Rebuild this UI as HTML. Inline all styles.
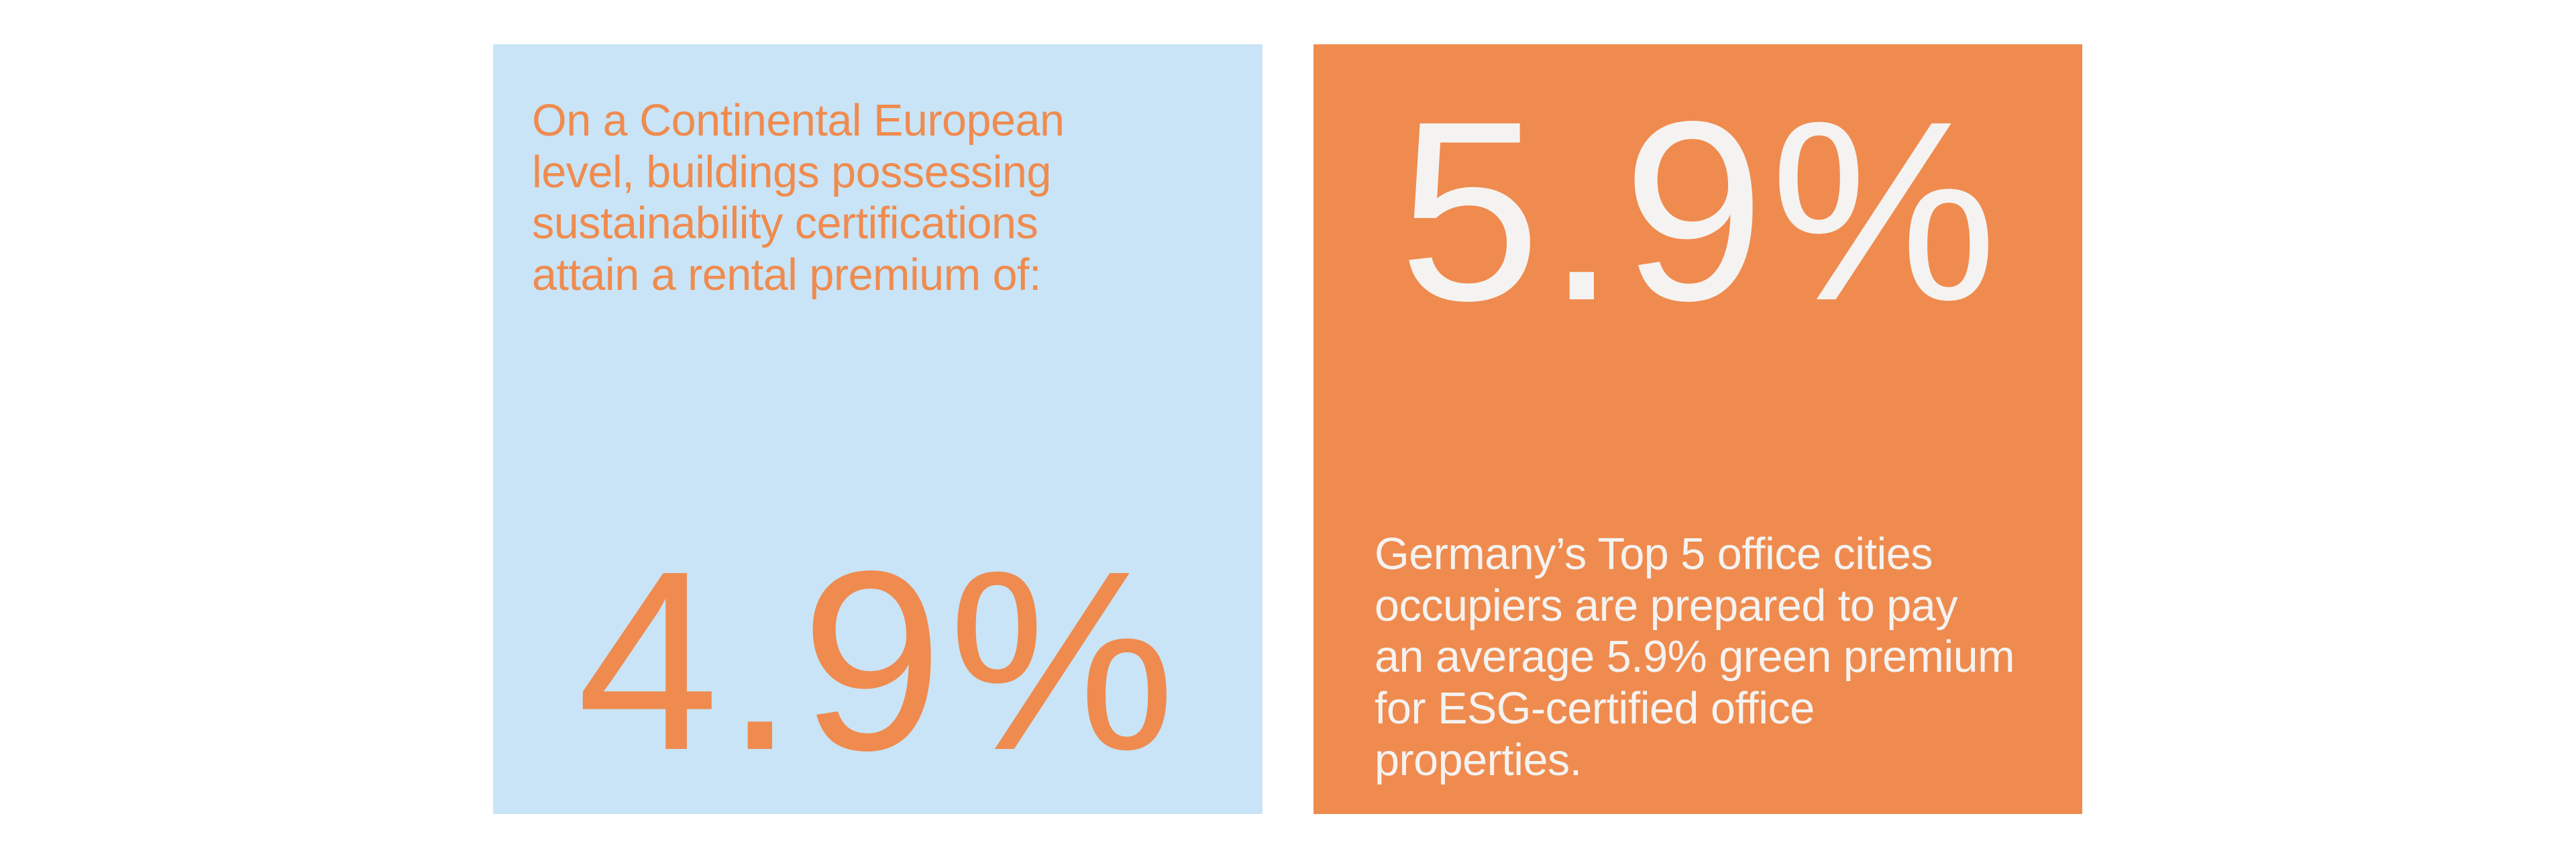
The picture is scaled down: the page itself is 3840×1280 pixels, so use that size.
<!DOCTYPE html>
<html><head><meta charset="utf-8"><style>
html,body{margin:0;padding:0;background:#fff;}
body{width:3840px;height:1280px;position:relative;overflow:hidden;font-family:"Liberation Sans",sans-serif;}
.box{position:absolute;top:66px;height:1147px;}
.b1{left:735px;width:1147px;background:#C9E4F6;}
.b2{left:1958px;width:1146px;background:#EF8B4F;}
.t{position:absolute;font-size:66.5px;line-height:76.7px;white-space:nowrap;letter-spacing:-0.5px;}
.big{position:absolute;font-size:381px;line-height:1;white-space:nowrap;letter-spacing:8px;}
</style></head><body>
<div class="box b1"></div>
<div class="box b2"></div>
<div class="t" style="left:793px;top:142px;color:#EF8B4F;">On a Continental European<br>level, buildings possessing<br>sustainability certifications<br>attain a rental premium of:</div>
<div class="big" style="left:860px;top:794px;color:#EF8B4F;">4.9%</div>
<div class="big" style="left:2085px;top:124px;color:#F5F3F1;">5.9%</div>
<div class="t" style="left:2049px;top:788px;color:#F5F3F1;">Germany’s Top 5 office cities<br>occupiers are prepared to pay<br>an average 5.9% green premium<br>for ESG-certified office<br>properties.</div>
</body></html>
